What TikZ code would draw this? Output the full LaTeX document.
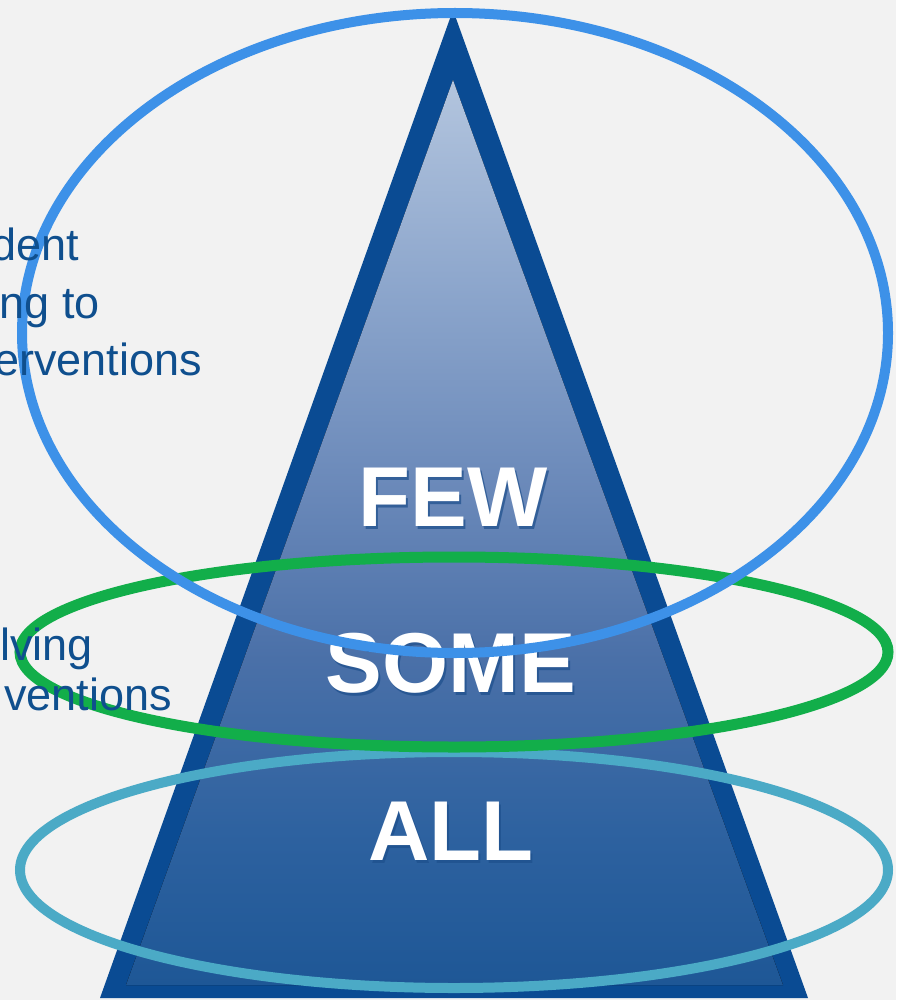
\documentclass[tikz,border=0pt]{standalone}
\usepackage{fontspec}
\setmainfont{Liberation Sans}
\definecolor{bg}{HTML}{F2F2F2}
\definecolor{tborder}{HTML}{0A4B93}
\definecolor{txtblue}{HTML}{0F4F8E}
\definecolor{eblue}{HTML}{3D91E8}
\definecolor{egreen}{HTML}{12AE4A}
\definecolor{eteal}{HTML}{4BAAC6}
\definecolor{sA}{HTML}{1E5796}
\definecolor{sB}{HTML}{2E62A0}
\definecolor{sC}{HTML}{4A70A8}
\definecolor{sD}{HTML}{6887B8}
\definecolor{sE}{HTML}{8AA4CB}
\definecolor{sF}{HTML}{B3C5DE}
\definecolor{shadowblue}{HTML}{1D4F8C}
\pgfdeclareverticalshading{trishade}{100bp}{color(0bp)=(sA); color(25bp)=(sA); color(33.6bp)=(sB); color(43bp)=(sC); color(51.8bp)=(sD); color(62.8bp)=(sE); color(75bp)=(sF); color(100bp)=(sF)}
\tikzset{
  lefttext/.style={font=\fontsize{45}{50}\selectfont, text=txtblue, inner sep=0pt, anchor=base east},
  tierlabel/.style={font=\fontsize{85}{90}\selectfont\bfseries, text=white, inner sep=0pt},
  tiershadow/.style={font=\fontsize{85}{90}\selectfont\bfseries, text=shadowblue, inner sep=0pt, opacity=0.7},
  ring/.style={line width=10pt}
}
\begin{document}
\begin{tikzpicture}[x=1pt,y=-1pt]
\fill[bg] (0,0) rectangle (896,1000);
\useasboundingbox (0,0) rectangle (896,1000);
% triangle
\fill[tborder] (453,10) -- (808,998) -- (100,998) -- cycle;
\fill[shading=trishade] (453,80) -- (783,985) -- (126,985) -- cycle;
% tier labels
\node[tiershadow] (fews) at (455,500) {FEW};
\node[tierlabel] (few) at (453,497) {FEW};
\node[tiershadow] (somes) at (453,666) {SOME};
\node[tierlabel] (some) at (451,663) {SOME};
\node[tiershadow] (alls) at (453,834) {ALL};
\node[tierlabel] (all) at (451,831) {ALL};
% ellipses
\draw[eteal, ring] (454,870) ellipse [x radius=434, y radius=118];
\draw[egreen, ring, line width=11pt] (454,652) ellipse [x radius=434, y radius=95];
\draw[eblue, ring] (455,333) ellipse [x radius=433, y radius=320];
% left text
\node[lefttext] (t1) at (79,260) {dent};
\node[lefttext] (t2) at (100,318) {ng to};
\node[lefttext] (t3) at (202,375) {erventions};
\node[lefttext] (t4) at (93,660) {lving};
\node[lefttext] (t5) at (172,710) {ventions};
\end{tikzpicture}
\end{document}
